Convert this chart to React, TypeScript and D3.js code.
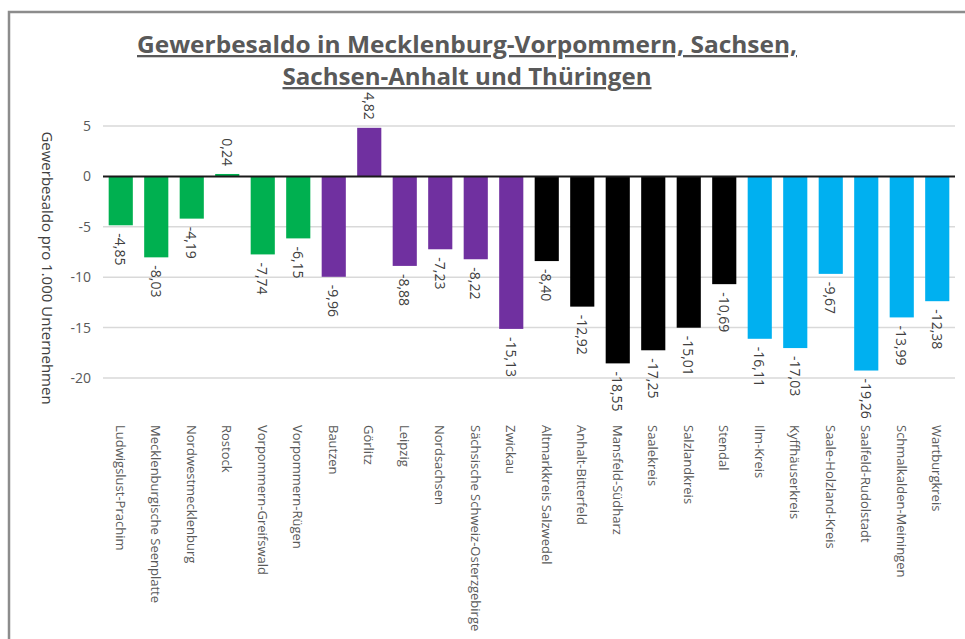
import { useEffect, useRef } from 'react'
import * as d3 from 'd3'

// Landkreise, grouped by state
const categories = [
  'Ludwigslust-Prachim', 'Mecklenburgische Seenplatte', 'Nordwestmecklenburg', 'Rostock',
  'Vorpommern-Greifswald', 'Vorpommern-Rügen',
  'Bautzen', 'Görlitz', 'Leipzig', 'Nordsachsen', 'Sächsische Schweiz-Osterzgebirge', 'Zwickau',
  'Altmarkkreis Salzwedel', 'Anhalt-Bitterfeld', 'Mansfeld-Südharz', 'Saalekreis', 'Salzlandkreis', 'Stendal',
  'Ilm-Kreis', 'Kyffhäuserkreis', 'Saale-Holzland-Kreis', 'Saalfeld-Rudolstadt', 'Schmalkalden-Meiningen', 'Wartburgkreis',
]
const values = [
  -4.85, -8.03, -4.19, 0.24, -7.74, -6.15,
  -9.96, 4.82, -8.88, -7.23, -8.22, -15.13,
  -8.40, -12.92, -18.55, -17.25, -15.01, -10.69,
  -16.11, -17.03, -9.67, -19.26, -13.99, -12.38,
]
const states = [
  'MV', 'MV', 'MV', 'MV', 'MV', 'MV',
  'SN', 'SN', 'SN', 'SN', 'SN', 'SN',
  'ST', 'ST', 'ST', 'ST', 'ST', 'ST',
  'TH', 'TH', 'TH', 'TH', 'TH', 'TH',
]
const stateColors = { MV: '#00B050', SN: '#7030A0', ST: '#000000', TH: '#00B0F0' }
const yTicks = [5, 0, -5, -10, -15, -20]
const titleLines = ['Gewerbesaldo in Mecklenburg-Vorpommern, Sachsen,', 'Sachsen-Anhalt und Thüringen']
const yTitle = 'Gewerbesaldo pro 1.000 Unternehmen'

const fmt = (v: number) => v.toFixed(2).replace('.', ',')

const App = () => {
  const chart = useRef<SVGSVGElement | null>(null)

  useEffect(() => {
    const width = 965, height = 639
    const left = 103, right = 955, top = 126, bottom = 378
    const font = "'Open Sans', sans-serif"

    const svg = d3.select(chart.current)
    svg.selectAll('*').remove()

    // chart area border
    svg.append('rect')
      .attr('x', 9).attr('y', 12)
      .attr('width', 1000).attr('height', 700)
      .attr('fill', 'white')
      .attr('stroke', '#8c8c8c')
      .attr('stroke-width', 2.5)

    // title
    const title = svg.append('g')
      .attr('font-family', font)
      .attr('font-weight', 'bold')
      .attr('font-size', 23)
      .attr('fill', '#595959')
      .attr('text-anchor', 'middle')
    title.append('text')
      .attr('x', 467).attr('y', 53)
      .attr('textLength', 660).attr('lengthAdjust', 'spacingAndGlyphs')
      .attr('text-decoration', 'underline')
      .text(titleLines[0])
    title.append('text')
      .attr('x', 467).attr('y', 85)
      .attr('textLength', 369).attr('lengthAdjust', 'spacingAndGlyphs')
      .attr('text-decoration', 'underline')
      .text(titleLines[1])

    const x = d3.scaleBand()
      .domain(categories)
      .range([left, right])
      .paddingInner(0.32)
      .paddingOuter(0.16)

    const y = d3.scaleLinear()
      .domain([-20, 5])
      .range([bottom, top])

    // gridlines
    svg.append('g')
      .selectAll('line')
      .data(yTicks.filter(t => t !== 0))
      .enter()
      .append('line')
      .attr('x1', left).attr('x2', right)
      .attr('y1', d => y(d)).attr('y2', d => y(d))
      .attr('stroke', '#d9d9d9')
      .attr('stroke-width', 1.5)

    // y tick labels
    svg.append('g')
      .selectAll('text')
      .data(yTicks)
      .enter()
      .append('text')
      .attr('x', 91)
      .attr('y', d => y(d))
      .attr('dy', '0.35em')
      .attr('text-anchor', 'end')
      .attr('font-family', font)
      .attr('font-size', 14)
      .attr('fill', '#595959')
      .text(d => d)

    // y axis title
    svg.append('text')
      .attr('transform', 'translate(48,268) rotate(90)')
      .attr('text-anchor', 'middle')
      .attr('dominant-baseline', 'central')
      .attr('font-family', font)
      .attr('font-size', 15)
      .attr('fill', '#404040')
      .text(yTitle)

    const data = categories.map((c, i) => ({ c, v: values[i], s: states[i] }))

    // bars
    svg.append('g')
      .selectAll('rect')
      .data(data)
      .enter()
      .append('rect')
      .attr('x', d => x(d.c)!)
      .attr('width', x.bandwidth())
      .attr('y', d => y(Math.max(0, d.v)))
      .attr('height', d => Math.abs(y(d.v) - y(0)))
      .attr('fill', d => stateColors[d.s as keyof typeof stateColors])

    // zero line
    svg.append('line')
      .attr('x1', left).attr('x2', right)
      .attr('y1', y(0)).attr('y2', y(0))
      .attr('stroke', '#1a1a1a')
      .attr('stroke-width', 2)

    // value labels
    svg.append('g')
      .selectAll('text')
      .data(data)
      .enter()
      .append('text')
      .attr('transform', d => {
        const cx = x(d.c)! + x.bandwidth() / 2
        const yy = d.v < 0 ? y(d.v) + 8 : y(d.v) - 8
        return `translate(${cx},${yy}) rotate(90)`
      })
      .attr('text-anchor', d => d.v < 0 ? 'start' : 'end')
      .attr('dominant-baseline', 'central')
      .attr('font-family', font)
      .attr('font-size', 14)
      .attr('fill', '#404040')
      .text(d => fmt(d.v))

    // category labels
    svg.append('g')
      .selectAll('text')
      .data(categories)
      .enter()
      .append('text')
      .attr('transform', d => `translate(${x(d)! + x.bandwidth() / 2},425) rotate(90)`)
      .attr('text-anchor', 'start')
      .attr('dominant-baseline', 'central')
      .attr('font-family', font)
      .attr('font-size', 13)
      .attr('fill', '#595959')
      .text(d => d)

    svg.attr('width', width).attr('height', height)
  }, [])

  return (
    <svg ref={chart} style={{ position: 'fixed', left: 0, top: 0, background: 'white' }} />
  )
}

export default App
